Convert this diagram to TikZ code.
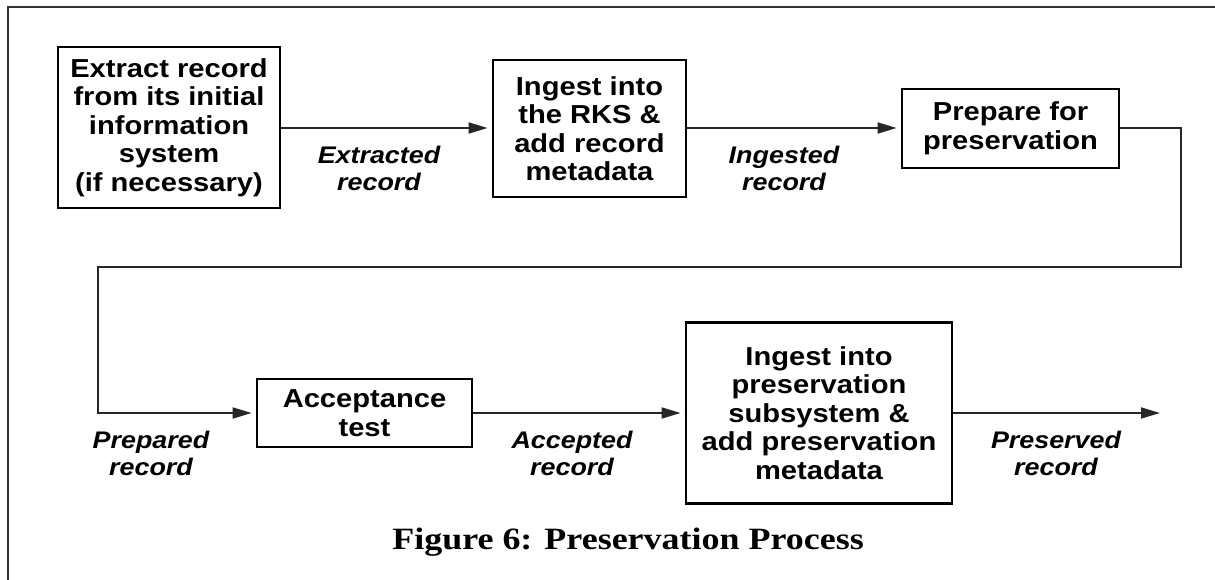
\documentclass[tikz,border=0pt]{standalone}
\usepackage{fontspec}
\newfontfamily\helv{Liberation Sans}[FakeStretch=1.12]
\newfontfamily\capfont{Liberation Serif}[FakeStretch=1.16]
\usetikzlibrary{arrows.meta}
\begin{document}
\begin{tikzpicture}[x=1pt,y=-1pt,
  procbox/.style={draw,line width=2.8pt,align=center,inner sep=0pt,
    font=\helv\bfseries\fontsize{26}{28.5}\selectfont},
  flow/.style={line width=1.8pt,draw=black!85,shorten >=4pt,
    -{Triangle[length=19pt,width=11pt]}},
  flowlabel/.style={align=center,inner sep=0pt,
    font=\helv\bfseries\itshape\fontsize{24}{27}\selectfont}
]
\useasboundingbox (0,0) rectangle (1215,580);
% frame
\draw[line width=2pt,black!80] (8,580) -- (8,7) -- (1215,7);

% process steps
\node[procbox,minimum width=222pt,minimum height=161pt] (extract) at (169,127.5)
  {Extract record\\from its initial\\information\\system\\(if necessary)};
\node[procbox,minimum width=193pt,minimum height=137pt] (ingest) at (589.5,128.5)
  {Ingest into\\the RKS \&\\add record\\metadata};
\node[procbox,minimum width=217pt,minimum height=79pt] (prepare) at (1010.5,128.5)
  {Prepare for\\preservation};
\node[procbox,minimum width=215pt,minimum height=68pt] (accept) at (364.5,413)
  {Acceptance\\test};
\node[procbox,minimum width=266pt,minimum height=181pt] (preserve) at (819,413)
  {Ingest into\\preservation\\subsystem \&\\add preservation\\metadata};

% bends and free end
\coordinate (r1) at (1181,128);
\coordinate (r2) at (1181,267);
\coordinate (l1) at (98,267);
\coordinate (l2) at (98,413);
\coordinate (out) at (1164,413);

% connectors
\draw[flow] (extract.east |- 0,128) -- (ingest.west |- 0,128);
\draw[flow] (ingest.east |- 0,128) -- (prepare.west |- 0,128);
\draw[flow] (prepare.east |- r1) -- (r1) -- (r2) -- (l1) -- (l2) -- (accept.west);
\draw[flow] (accept) -- (preserve);
\draw[flow] (preserve.east) -- (out);

% data labels
\node[flowlabel] (lextracted) at (379,168) {Extracted\\record};
\node[flowlabel] (lingested) at (784,168) {Ingested\\record};
\node[flowlabel] (lprepared) at (151,453) {Prepared\\record};
\node[flowlabel] (laccepted) at (572,453) {Accepted\\record};
\node[flowlabel] (lpreserved) at (1056,453) {Preserved\\record};

% caption
\node[font=\capfont\bfseries\fontsize{31}{34}\selectfont] (caption) at (628,542)
  {Figure 6: Preservation Process};
\end{tikzpicture}
\end{document}
